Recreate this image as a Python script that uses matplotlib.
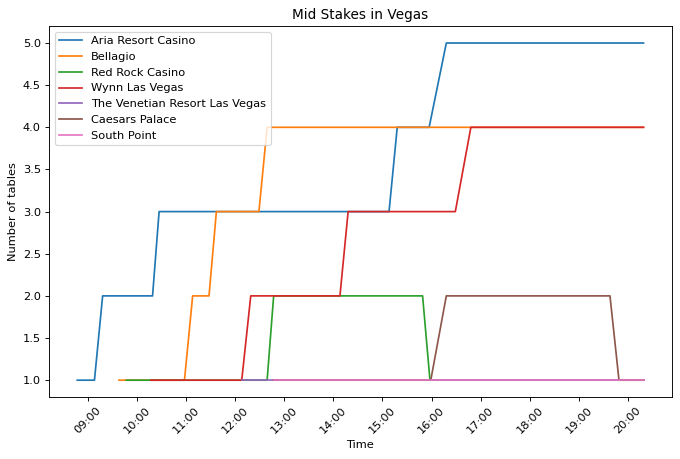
import pandas as pd
import matplotlib
matplotlib.use("Agg")
import matplotlib.pyplot as plt
import matplotlib.dates as mdates

day = "2023-06-10 "

# breakpoints (time, tables)
aria_t = ["08:47", "09:08", "09:18", "10:19", "10:27", "15:08", "15:18", "15:57", "16:18", "20:19"]
aria_v = [1, 1, 2, 2, 3, 3, 4, 4, 5, 5]

bellagio_t = ["09:38", "10:58", "11:08", "11:28", "11:37", "12:29", "12:39", "20:19"]
bellagio_v = [1, 1, 2, 2, 3, 3, 4, 4]

redrock_t = ["09:47", "12:39", "12:47", "15:49", "15:58", "20:19"]
redrock_v = [1, 1, 2, 2, 1, 1]

wynn_t = ["10:17", "12:08", "12:19", "14:08", "14:18", "16:29", "16:48", "20:19"]
wynn_v = [1, 1, 2, 2, 3, 3, 4, 4]

venetian_t = ["12:08", "20:19"]
venetian_v = [1, 1]

caesars_t = ["12:47", "15:59", "16:18", "19:38", "19:49", "20:19"]
caesars_v = [1, 1, 2, 2, 1, 1]

southpoint_t = ["12:47", "20:19"]
southpoint_v = [1, 1]

series = [
    ("Aria Resort Casino", aria_t, aria_v),
    ("Bellagio", bellagio_t, bellagio_v),
    ("Red Rock Casino", redrock_t, redrock_v),
    ("Wynn Las Vegas", wynn_t, wynn_v),
    ("The Venetian Resort Las Vegas", venetian_t, venetian_v),
    ("Caesars Palace", caesars_t, caesars_v),
    ("South Point", southpoint_t, southpoint_v),
]

dpi = 82
fig, ax = plt.subplots(figsize=(680 / dpi, 459 / dpi), dpi=dpi)
for name, t, v in series:
    ax.plot(pd.to_datetime([day + s for s in t]), v, label=name)

ax.set_title("Mid Stakes in Vegas")
ax.set_xlabel("Time")
ax.set_ylabel("Number of tables")
ax.xaxis.set_major_locator(mdates.HourLocator())
ax.xaxis.set_major_formatter(mdates.DateFormatter("%H:%M"))
plt.setp(ax.get_xticklabels(), rotation=45)
ax.legend(loc="upper left")
fig.subplots_adjust(left=0.072, right=0.988, top=0.943, bottom=0.135)
fig.savefig("out.png", dpi=dpi)
